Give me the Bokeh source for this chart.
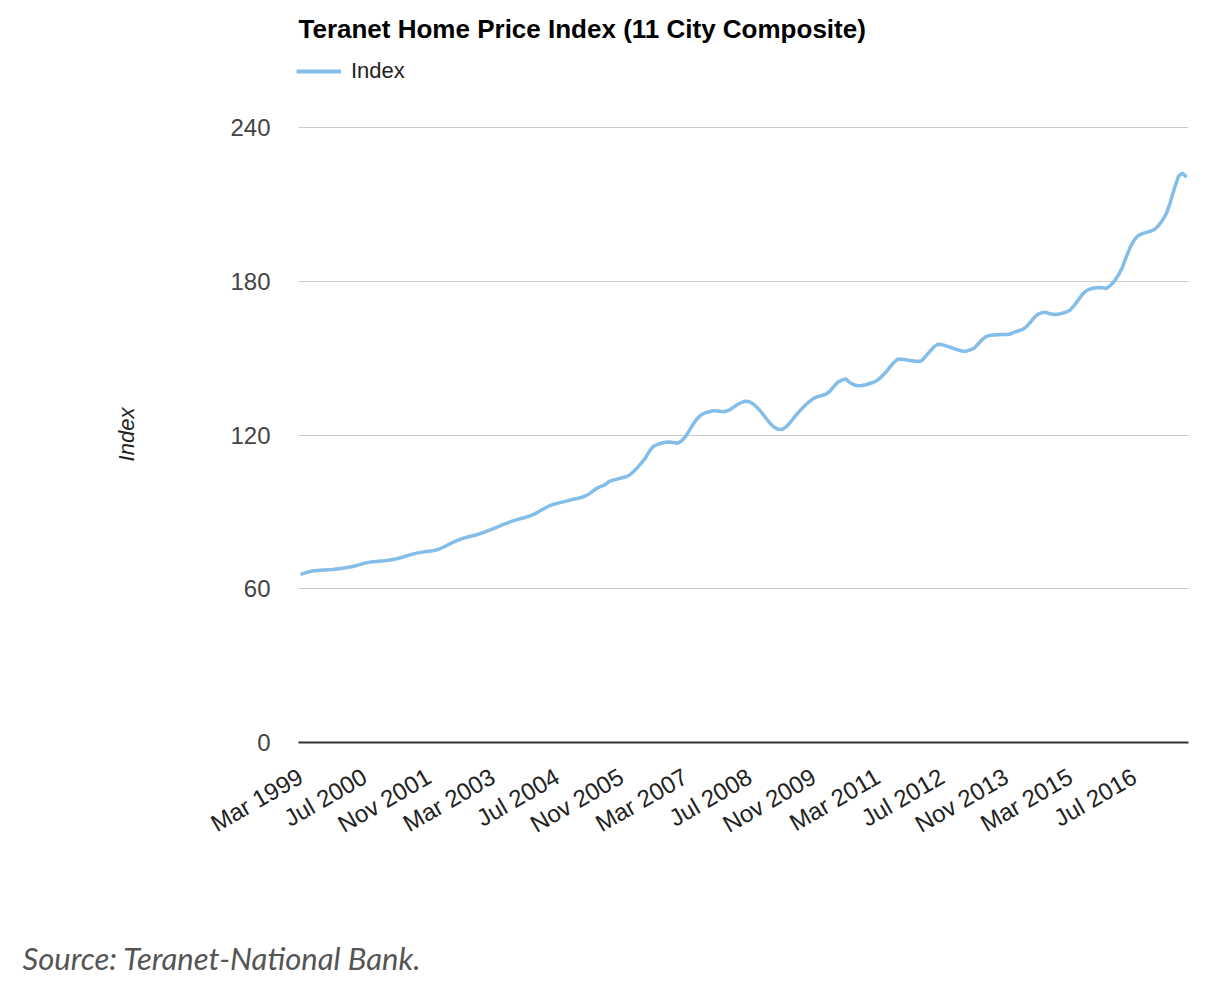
import math
from bokeh.plotting import figure
from bokeh.models import (Range1d, FixedTicker, Label, Legend, LegendItem, ColumnDataSource)
from bokeh.embed import file_html
from bokeh.resources import INLINE

# ---- data (monthly, Mar 1999 .. Aug 2017) ----
index_1999 = [65.6, 66.1, 66.6, 66.9, 67.1, 67.2, 67.3, 67.4, 67.5, 67.7]
index_2000 = [67.9, 68.1, 68.4, 68.7, 69.1, 69.5, 70.0, 70.3, 70.5, 70.6, 70.8, 70.9]
index_2001 = [71.1, 71.4, 71.7, 72.1, 72.6, 73.1, 73.5, 73.9, 74.2, 74.4, 74.6, 74.8]
index_2002 = [75.2, 75.8, 76.5, 77.3, 78.1, 78.8, 79.4, 79.9, 80.3, 80.7, 81.1, 81.6]
index_2003 = [82.2, 82.8, 83.4, 84.0, 84.7, 85.3, 85.9, 86.5, 87.0, 87.4, 87.8, 88.3]
index_2004 = [88.9, 89.7, 90.6, 91.5, 92.3, 92.9, 93.3, 93.7, 94.1, 94.5, 94.9, 95.2]
index_2005 = [95.6, 96.2, 97.0, 98.2, 99.3, 100.0, 100.6, 101.9, 102.4, 102.8, 103.2, 103.6]
index_2006 = [104.3, 105.6, 107.2, 109.0, 111.0, 113.6, 115.6, 116.3, 116.8, 117.2, 117.3, 117.1]
index_2007 = [116.8, 117.6, 119.3, 121.8, 124.4, 126.5, 127.9, 128.7, 129.1, 129.5, 129.4, 129.2]
index_2008 = [129.2, 129.8, 130.8, 131.9, 132.7, 133.2, 133.0, 132.0, 130.6, 128.8, 126.8, 124.8]
index_2009 = [123.2, 122.3, 122.1, 123.0, 124.6, 126.6, 128.5, 130.2, 131.8, 133.1, 134.3, 135.0]
index_2010 = [135.4, 135.9, 137.0, 138.9, 140.6, 141.4, 141.9, 140.5, 139.6, 139.2, 139.3, 139.6]
index_2011 = [140.1, 140.6, 141.5, 142.9, 144.5, 146.5, 148.3, 149.6, 149.6, 149.4, 149.1, 148.9]
index_2012 = [148.7, 149.0, 150.9, 152.6, 154.4, 155.4, 155.3, 154.8, 154.3, 153.7, 153.2, 152.8]
index_2013 = [152.6, 153.2, 153.8, 155.5, 157.2, 158.4, 158.9, 159.0, 159.1, 159.2, 159.2, 159.4]
index_2014 = [160.1, 160.6, 161.1, 162.2, 163.9, 165.8, 167.2, 167.8, 167.8, 167.3, 167.0, 167.1]
index_2015 = [167.5, 168.0, 168.8, 170.6, 172.7, 174.8, 176.3, 177.0, 177.4, 177.6, 177.5, 177.2]
index_2016 = [178.3, 180.0, 182.4, 185.3, 189.6, 193.4, 196.2, 197.9, 198.6, 199.1, 199.5, 200.2]
index_2017 = [201.7, 203.8, 206.5, 211.0, 216.3, 221.0, 222.2, 220.6]

tick_positions = [0, 16, 32, 48, 64, 80, 96, 112, 128, 144, 160, 176, 192, 208]
tick_labels = ["Mar 1999", "Jul 2000", "Nov 2001", "Mar 2003", "Jul 2004", "Nov 2005",
               "Mar 2007", "Jul 2008", "Nov 2009", "Mar 2011", "Jul 2012", "Nov 2013",
               "Mar 2015", "Jul 2016"]
y_ticks = [0, 60, 120, 180, 240]

values = (index_1999 + index_2000 + index_2001 + index_2002 + index_2003 + index_2004 +
          index_2005 + index_2006 + index_2007 + index_2008 + index_2009 + index_2010 +
          index_2011 + index_2012 + index_2013 + index_2014 + index_2015 + index_2016 +
          index_2017)
months = list(range(len(values)))
src = ColumnDataSource(dict(x=months, y=values))

LINE_COLOR = "#85bde9"
FONT = "Liberation Sans"
W = 1200


def blank(height):
    f = figure(width=W, height=height, output_backend="svg", toolbar_location=None,
               x_range=Range1d(0, W), y_range=Range1d(height, 0),
               x_axis_location=None, y_axis_location=None,
               min_border=0, min_border_left=0, min_border_right=0,
               min_border_top=0, min_border_bottom=0)
    f.outline_line_color = None
    f.xgrid.visible = False
    f.ygrid.visible = False
    return f


# ---------------- header: title + legend ----------------
head = blank(100)
head.add_layout(Label(x=298, y=28, text="Teranet Home Price Index (11 City Composite)",
                      text_font=FONT, text_font_style="bold", text_font_size="26px",
                      text_color="#000000", text_baseline="alphabetic", text_align="left"))
key_src = ColumnDataSource(dict(x=[float("nan")], y=[float("nan")]))
key = head.line("x", "y", source=key_src, line_color=LINE_COLOR, line_width=4)
legend = Legend(items=[LegendItem(label="Index", renderers=[key])],
                location=(296, 16), orientation="horizontal",
                glyph_width=45, glyph_height=26, label_standoff=10,
                label_text_font=FONT, label_text_font_size="22px",
                label_text_color="#222222", padding=0, margin=0, spacing=0,
                border_line_color=None, background_fill_alpha=0)
head.add_layout(legend, "center")

# ---------------- main chart ----------------
p = figure(width=W, height=790, output_backend="svg", toolbar_location=None,
           x_range=Range1d(-0.5, len(values) - 0.5), y_range=Range1d(0, 240.4),
           min_border_left=298, min_border_right=12, min_border_top=26,
           min_border_bottom=148)
p.outline_line_color = None

r = p.line("x", "y", source=src, line_color=LINE_COLOR, line_width=3.5)

p.yaxis.ticker = FixedTicker(ticks=y_ticks)
p.yaxis.axis_line_color = None
p.yaxis.major_tick_line_color = None
p.yaxis.minor_tick_line_color = None
p.yaxis.major_tick_out = 0
p.yaxis.major_label_standoff = 28
p.yaxis.major_label_text_font = FONT
p.yaxis.major_label_text_font_size = "24px"
p.yaxis.major_label_text_color = "#444444"
p.yaxis.axis_label = "Index"
p.yaxis.axis_label_text_font = FONT
p.yaxis.axis_label_text_font_style = "italic"
p.yaxis.axis_label_text_font_size = "22px"
p.yaxis.axis_label_text_color = "#222222"
p.yaxis.axis_label_standoff = 88

p.xaxis.ticker = FixedTicker(ticks=tick_positions)
p.xaxis.major_label_overrides = {t: l for t, l in zip(tick_positions, tick_labels)}
p.xaxis.major_label_orientation = math.pi / 6
p.xaxis.axis_line_color = "#333333"
p.xaxis.axis_line_width = 2
p.xaxis.major_tick_line_color = None
p.xaxis.minor_tick_line_color = None
p.xaxis.major_tick_out = 0
p.xaxis.major_label_standoff = 32
p.xaxis.major_label_text_font = FONT
p.xaxis.major_label_text_font_size = "24px"
p.xaxis.major_label_text_color = "#222222"

p.xgrid.grid_line_color = None
p.ygrid.grid_line_color = "#cccccc"
p.ygrid.grid_line_width = 1

# ---------------- footer: source note ----------------
foot = blank(92)
foot.add_layout(Label(x=22, y=67, text="Source: Teranet-National Bank.",
                      text_font="Lato", text_font_style="italic", text_font_size="31px",
                      text_color="#555555", text_baseline="alphabetic", text_align="left"))

open("out.html", "w").write(file_html([head, p, foot], INLINE))
